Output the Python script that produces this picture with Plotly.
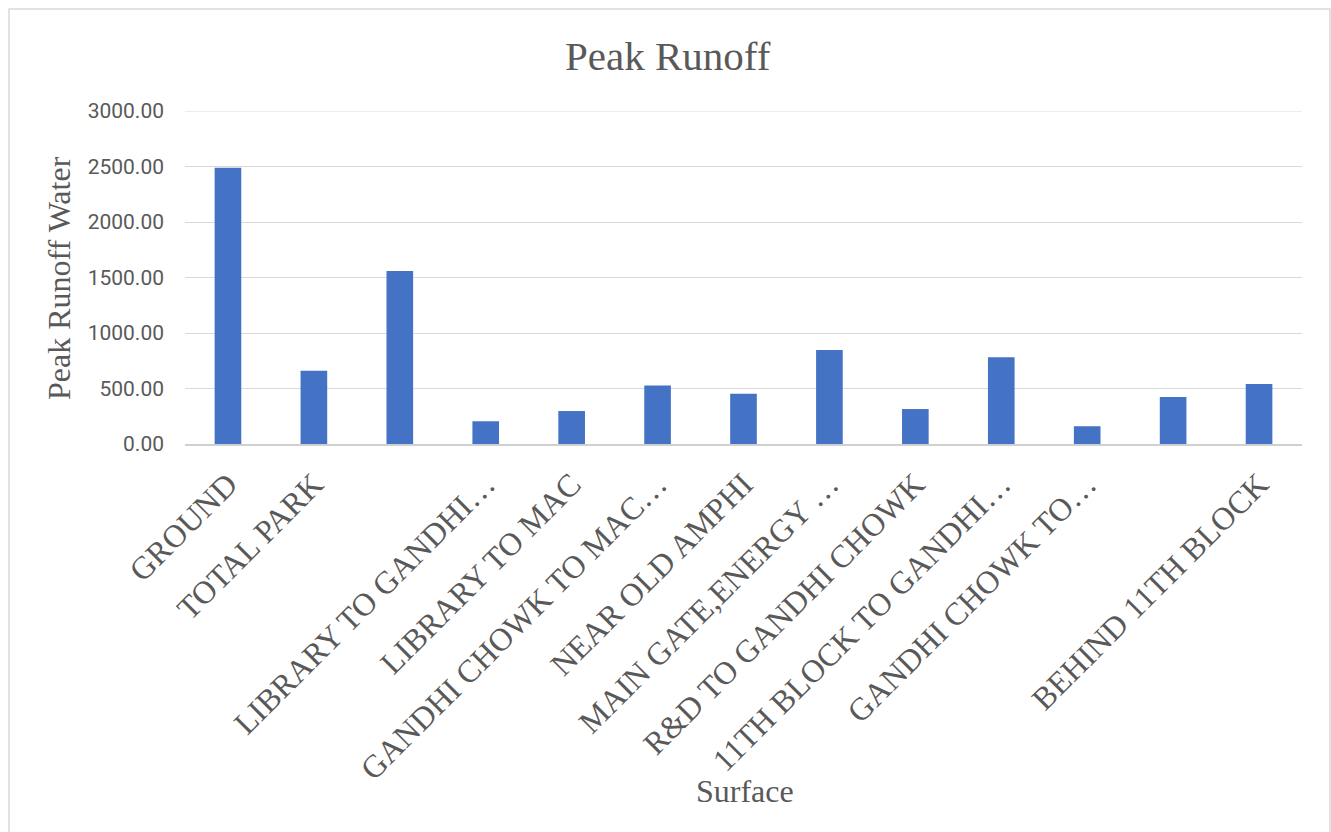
import plotly.graph_objects as go

categories = [
    "GROUND", "TOTAL PARK", "", "LIBRARY TO GANDHI…", "LIBRARY TO MAC",
    "GANDHI CHOWK TO MAC…", "NEAR OLD AMPHI", "MAIN GATE,ENERGY …",
    "R&D TO GANDHI CHOWK", "11TH BLOCK TO GANDHI…", "GANDHI CHOWK TO…", "",
    "BEHIND 11TH BLOCK",
]
peak_runoff = [2488, 660, 1558, 205, 297, 528, 453, 847, 315, 781, 160, 423, 540]
y_ticks = [0, 500, 1000, 1500, 2000, 2500, 3000]

positions = list(range(len(categories)))

W, H = 1331, 832
L, R, T, B = 185, 29, 111, 388
pw, ph = W - L - R, H - T - B


def px_x(x):
    return (x - L) / pw


def px_y(y):
    return (H - B - y) / ph


grey = "#595959"
serif = "Liberation Serif, Times New Roman, serif"

fig = go.Figure(
    go.Bar(
        x=positions,
        y=peak_runoff,
        marker=dict(color="#4472C4", line=dict(width=0)),
        width=0.31,
    )
)

fig.update_layout(
    width=W,
    height=H,
    margin=dict(l=L, r=R, t=T, b=B, pad=0),
    paper_bgcolor="white",
    plot_bgcolor="white",
    showlegend=False,
    xaxis=dict(
        range=[-0.5, len(categories) - 0.5],
        tickmode="array",
        tickvals=positions,
        ticktext=categories,
        tickangle=-45,
        tickfont=dict(family=serif, size=32, color=grey),
        showgrid=False,
        showline=True,
        linecolor="#d0d0d0",
        linewidth=1.5,
        ticks="",
        zeroline=False,
        ticklabelstandoff=7,
    ),
    yaxis=dict(
        range=[0, 3000],
        tickmode="array",
        tickvals=y_ticks,
        tickformat=".2f",
        tickfont=dict(family="Roboto, Arial, sans-serif", size=21, color=grey),
        gridcolor="#d9d9d9",
        gridwidth=1,
        zeroline=False,
        showline=False,
        ticks="",
        ticklabelstandoff=20,
    ),
    annotations=[
        dict(text="Peak Runoff", xref="paper", yref="paper",
             x=px_x(668), y=px_y(56), showarrow=False,
             font=dict(family=serif, size=41, color=grey),
             xanchor="center", yanchor="middle"),
        dict(text="Peak Runoff Water", xref="paper", yref="paper",
             x=px_x(59), y=px_y(278), showarrow=False, textangle=-90,
             font=dict(family=serif, size=32, color=grey),
             xanchor="center", yanchor="middle"),
        dict(text="Surface", xref="paper", yref="paper",
             x=px_x(745), y=px_y(791), showarrow=False,
             font=dict(family=serif, size=32, color=grey),
             xanchor="center", yanchor="middle"),
    ],
    shapes=[
        dict(type="line", xref="paper", yref="y",
             x0=0, x1=1, y0=y_ticks[-1], y1=y_ticks[-1],
             line=dict(color="#d9d9d9", width=1.2), layer="below"),
        dict(type="rect", xref="paper", yref="paper",
             x0=px_x(9), x1=px_x(1330), y0=px_y(845), y1=px_y(9),
             line=dict(color="#d9d9d9", width=1.5), fillcolor="rgba(0,0,0,0)",
             layer="below"),
    ],
)

fig.write_html("out.html")
